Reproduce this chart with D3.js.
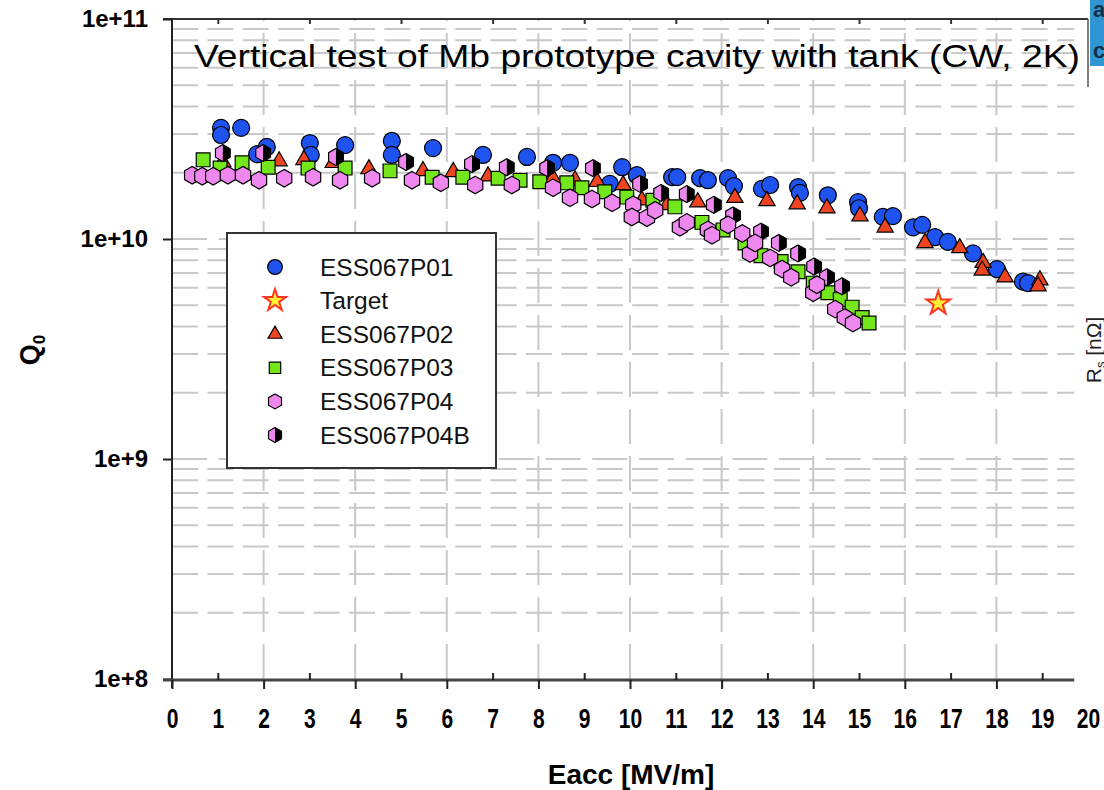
<!DOCTYPE html>
<html><head><meta charset="utf-8">
<script src="https://cdn.jsdelivr.net/npm/d3@7"></script>
<style>body{margin:0;background:#fff;} svg{display:block;font-family:"Liberation Sans",Arial,sans-serif;}</style>
</head><body><svg id="c" width="1104" height="790"></svg>
<script>
// ---- data (Eacc [MV/m], Q0) ----
const P01 = [[1.07,3.2e10],[1.07,2.97e10],[1.51,3.2e10],[1.86,2.43e10],[2.07,2.62e10],[3.01,2.73e10],[3.03,2.41e10],[3.78,2.67e10],[4.80,2.79e10],[4.80,2.41e10],[5.70,2.59e10],[6.79,2.41e10],[7.75,2.36e10],[8.32,2.22e10],[8.69,2.22e10],[9.56,1.78e10],[9.83,2.12e10],[10.15,1.95e10],[10.92,1.91e10],[11.03,1.91e10],[11.53,1.89e10],[11.70,1.85e10],[12.14,1.89e10],[12.27,1.74e10],[12.88,1.69e10],[13.06,1.76e10],[13.67,1.72e10],[13.71,1.62e10],[14.32,1.58e10],[14.98,1.47e10],[15.0,1.38e10],[15.52,1.26e10],[15.74,1.27e10],[16.18,1.13e10],[16.38,1.16e10],[16.66,1.02e10],[16.94,9.7e9],[17.49,8.6e9],[18.01,7.3e9],[18.58,6.4e9],[18.69,6.3e9]];
const TARGET = [[16.73,5.1e9]];
const P02 = [[1.11,2.24e10],[2.34,2.26e10],[2.88,2.29e10],[3.52,2.22e10],[4.30,2.08e10],[5.48,2.04e10],[6.14,2.02e10],[6.90,1.93e10],[8.32,1.89e10],[8.80,1.85e10],[9.28,1.82e10],[9.85,1.76e10],[10.26,1.50e10],[10.81,1.43e10],[11.48,1.47e10],[12.29,1.54e10],[12.99,1.49e10],[13.65,1.44e10],[14.30,1.38e10],[15.02,1.27e10],[15.57,1.13e10],[16.44,9.6e9],[17.2,9.1e9],[17.71,7.8e9],[17.69,7.2e9],[18.19,6.7e9],[18.95,6.5e9],[18.91,6.1e9]];
const P03 = [[0.68,2.29e10],[1.05,2.10e10],[1.53,2.22e10],[2.10,2.12e10],[2.97,2.10e10],[3.78,2.10e10],[4.76,2.04e10],[5.68,1.91e10],[6.35,1.91e10],[7.12,1.89e10],[7.60,1.85e10],[8.03,1.82e10],[8.62,1.80e10],[8.95,1.71e10],[9.45,1.64e10],[9.93,1.55e10],[10.50,1.50e10],[10.98,1.40e10],[11.57,1.19e10],[12.03,1.10e10],[12.51,9.6e9],[12.86,8.4e9],[13.30,7.9e9],[13.67,7.1e9],[14.0,6.3e9],[14.32,5.7e9],[14.59,5.3e9],[14.85,4.9e9],[15.07,4.4e9],[15.22,4.15e9]];
const P04B = [[1.11,2.46e10],[1.99,2.46e10],[3.58,2.36e10],[5.11,2.24e10],[6.55,2.19e10],[7.31,2.12e10],[8.19,2.10e10],[9.19,2.10e10],[10.22,1.78e10],[10.68,1.62e10],[11.24,1.60e10],[11.83,1.43e10],[12.25,1.28e10],[12.86,1.08e10],[13.25,9.6e9],[13.67,8.6e9],[14.02,7.5e9],[14.30,6.7e9],[14.63,6.1e9]];
const P04 = [[0.44,1.95e10],[0.66,1.93e10],[0.90,1.93e10],[1.22,1.95e10],[1.55,1.95e10],[1.90,1.85e10],[2.45,1.89e10],[3.08,1.91e10],[3.67,1.85e10],[4.37,1.89e10],[5.24,1.85e10],[5.87,1.80e10],[6.62,1.76e10],[7.42,1.76e10],[8.32,1.71e10],[8.69,1.54e10],[9.17,1.52e10],[9.61,1.46e10],[10.07,1.43e10],[10.04,1.26e10],[10.37,1.25e10],[10.55,1.35e10],[11.09,1.13e10],[11.24,1.19e10],[11.70,1.10e10],[11.79,1.04e10],[12.14,1.16e10],[12.45,1.06e10],[12.62,8.6e9],[12.73,9.6e9],[13.06,8.2e9],[13.32,7.3e9],[13.52,6.7e9],[14.0,5.7e9],[14.08,6.2e9],[14.48,4.8e9],[14.69,4.4e9],[14.87,4.15e9]];
const seriesNames = ["ESS067P01","Target","ESS067P02","ESS067P03","ESS067P04","ESS067P04B"];
const xTickValues = d3.range(0,21);
const yTickValues = [1e8,1e9,1e10,1e11];
const title = "Vertical test of Mb prototype cavity with tank (CW, 2K)";

// ---- colours ----
const BLUE="#1f53ef", RED="#ee4422", GREEN="#74e61c", VIOLET="#ee88ee", STARFILL="#fff033", STARSTROKE="#ff3322";

const svg = d3.select("#c");
const x = d3.scaleLinear().domain([0,20]).range([172,1088]);
const y = d3.scaleLog().domain([1e8,1e11]).range([679,19]);
const gridRight = x(19.7);

// ---- grid ----
const gGrid = svg.append("g");
gGrid.selectAll("line.v").data(d3.range(2,20,2)).join("line").attr("class","v")
  .attr("x1",d=>x(d)).attr("x2",d=>x(d)).attr("y1",y(1e8)).attr("y2",y(1e11))
  .attr("stroke","#c8c8c8").attr("stroke-width",2).attr("stroke-dasharray","35,12");
const hVals = y.ticks().filter(v=>v>1e8*1.0001 && v<1e11*0.9999);
const isDecade = v => Math.abs(Math.log10(v)-Math.round(Math.log10(v)))<1e-9;
gGrid.selectAll("line.h").data(hVals).join("line").attr("class","h")
  .attr("x1",x(0)).attr("x2",gridRight).attr("y1",d=>y(d)).attr("y2",d=>y(d))
  .attr("stroke","#c8c8c8").attr("stroke-width",2)
  .attr("stroke-dasharray",d=>isDecade(d)?"35,11.7":"26,9.4");

// ---- title ----
svg.append("text").attr("x",194).attr("y",67).attr("font-size",32)
  .attr("textLength",886).attr("lengthAdjust","spacingAndGlyphs").attr("fill","#000").text(title);

// ---- frame / axes ----
svg.append("line").attr("x1",163).attr("x2",x(20)).attr("y1",y(1e11)).attr("y2",y(1e11)).attr("stroke","#333").attr("stroke-width",2);
svg.append("line").attr("x1",x(20)).attr("x2",x(20)).attr("y1",y(1e11)).attr("y2",87).attr("stroke","#555").attr("stroke-width",1.5);
const topAx = svg.append("g").attr("transform",`translate(0,${y(1e11)})`)
  .call(d3.axisBottom(x).tickValues(d3.range(1,20,2)).tickSize(5).tickFormat(""));
topAx.select(".domain").remove();
topAx.selectAll("line").attr("stroke","#333").attr("stroke-width",2);

// left axis
svg.append("line").attr("x1",x(0)).attr("x2",x(0)).attr("y1",y(1e11)).attr("y2",688).attr("stroke","#222").attr("stroke-width",2);
const yAx = svg.append("g").attr("transform",`translate(${x(0)},0)`)
  .call(d3.axisLeft(y).tickValues(yTickValues).tickSize(9).tickPadding(15)
    .tickFormat(d=>"1e+"+Math.round(Math.log10(d))));
yAx.select(".domain").remove();
yAx.selectAll("line").attr("stroke","#222").attr("stroke-width",2);
yAx.selectAll("text").attr("font-size",24).attr("font-weight","bold").attr("fill","#000")
  .attr("font-family","'Liberation Sans',Arial,sans-serif");

// bottom axis
svg.append("line").attr("x1",163).attr("x2",gridRight).attr("y1",680).attr("y2",680).attr("stroke","#444").attr("stroke-width",3);
const xMaj = svg.append("g").attr("transform","translate(0,680)")
  .call(d3.axisBottom(x).tickValues(d3.range(0,20,2)).tickSize(9).tickFormat(""));
xMaj.select(".domain").remove();
xMaj.selectAll("line").attr("stroke","#222").attr("stroke-width",2);
const xMin = svg.append("g").attr("transform","translate(0,680)")
  .call(d3.axisTop(x).tickValues(d3.range(1,20,2)).tickSize(7).tickFormat(""));
xMin.select(".domain").remove();
xMin.selectAll("line").attr("stroke","#222").attr("stroke-width",2);
const xLab = svg.append("g").attr("transform","translate(0,680)")
  .call(d3.axisBottom(x).tickValues(xTickValues).tickSize(0).tickPadding(29).tickFormat(d3.format("d")));
xLab.select(".domain").remove();
xLab.selectAll("text").attr("font-size",27).attr("font-weight","bold").attr("fill","#000")
  .attr("font-family","'Liberation Sans',Arial,sans-serif").attr("transform","scale(0.78,1)");

// axis titles
svg.append("text").attr("x",631).attr("y",784).attr("text-anchor","middle").attr("font-size",28)
  .attr("font-weight","bold").text("Eacc [MV/m]");
const ql = svg.append("text").attr("transform","translate(39,350) rotate(-90)").attr("text-anchor","middle")
  .attr("font-size",27).attr("font-weight","bold");
ql.append("tspan").text("Q");
ql.append("tspan").attr("font-size",17).attr("dy",6).text("0");

// ---- markers ----
function hexPath(r){const pts=d3.range(6).map(i=>{const a=Math.PI/180*(-90+60*i);return [r*Math.cos(a),r*Math.sin(a)];});return "M"+pts.join("L")+"Z";}
function halfHex(r,side){const c=r*Math.cos(Math.PI/6);return side<0?`M0,${-r}L${-c},${-r/2}L${-c},${r/2}L0,${r}Z`:`M0,${-r}L${c},${-r/2}L${c},${r/2}L0,${r}Z`;}
const sym = (type,size)=>d3.symbol().type(type).size(size)();

function drawSeries(data,pathStr,fill,stroke,sw){
  svg.append("g").selectAll("path").data(data).join("path")
    .attr("transform",d=>`translate(${x(d[0])},${y(d[1])})`)
    .attr("d",pathStr).attr("fill",fill).attr("stroke",stroke).attr("stroke-width",sw);
}
drawSeries(P01,sym(d3.symbolCircle,227),BLUE,"#000",1.2);
drawSeries(TARGET,sym(d3.symbolStar,175),STARFILL,STARSTROKE,2);
drawSeries(P02,sym(d3.symbolTriangle,115),RED,"#000",1.2);
drawSeries(P03,sym(d3.symbolSquare,190),GREEN,"#000",1.2);
const gB = svg.append("g").selectAll("g").data(P04B).join("g")
  .attr("transform",d=>`translate(${x(d[0])},${y(d[1])})`);
gB.append("path").attr("d",halfHex(8.5,-1)).attr("fill",VIOLET);
gB.append("path").attr("d",halfHex(8.5,1)).attr("fill","#000");
gB.append("path").attr("d",hexPath(8.5)).attr("fill","none").attr("stroke","#000").attr("stroke-width",1.2);
drawSeries(P04,hexPath(8.8),VIOLET,"#000",1.2);

// ---- legend ----
const lg = svg.append("g");
lg.append("rect").attr("x",227).attr("y",233).attr("width",269).attr("height",235)
  .attr("fill","#fff").attr("stroke","#333").attr("stroke-width",2);
const rowY = i => 267 + i*33.6;
const legSym = [
  {d:sym(d3.symbolCircle,170),fill:BLUE,stroke:"#000",sw:1.2},
  {d:sym(d3.symbolStar,150),fill:STARFILL,stroke:STARSTROKE,sw:2},
  {d:sym(d3.symbolTriangle,85),fill:RED,stroke:"#000",sw:1.2},
  {d:sym(d3.symbolSquare,130),fill:GREEN,stroke:"#000",sw:1.2},
  {d:hexPath(7.5),fill:VIOLET,stroke:"#000",sw:1.2},
  null
];
seriesNames.forEach((name,i)=>{
  const g = lg.append("g").attr("transform",`translate(275,${rowY(i)})`);
  if(legSym[i]){
    g.append("path").attr("d",legSym[i].d).attr("fill",legSym[i].fill).attr("stroke",legSym[i].stroke).attr("stroke-width",legSym[i].sw);
  } else {
    g.append("path").attr("d",halfHex(7.5,-1)).attr("fill",VIOLET);
    g.append("path").attr("d",halfHex(7.5,1)).attr("fill","#000");
    g.append("path").attr("d",hexPath(7.5)).attr("fill","none").attr("stroke","#000").attr("stroke-width",1.2);
  }
  lg.append("text").attr("x",320).attr("y",rowY(i)+8.5).attr("font-size",24.5).attr("fill","#111").text(name);
});

// ---- slide fragments at the right edge ----
svg.append("rect").attr("x",1090).attr("y",0).attr("width",14).attr("height",66).attr("fill","#2f95d3");
svg.append("text").attr("x",1093).attr("y",17).attr("font-size",22).attr("font-weight","bold").attr("fill","#14324a").text("a");
svg.append("text").attr("x",1093).attr("y",58).attr("font-size",22).attr("font-weight","bold").attr("fill","#14324a").text("c");
const rs = svg.append("text").attr("transform","translate(1101,350) rotate(-90)").attr("text-anchor","middle")
  .attr("font-size",21).attr("fill","#222");
rs.append("tspan").text("R");
rs.append("tspan").attr("font-size",13).attr("dy",4).text("s");
rs.append("tspan").attr("dy",-4).text(" [nΩ]");
</script></body></html>
